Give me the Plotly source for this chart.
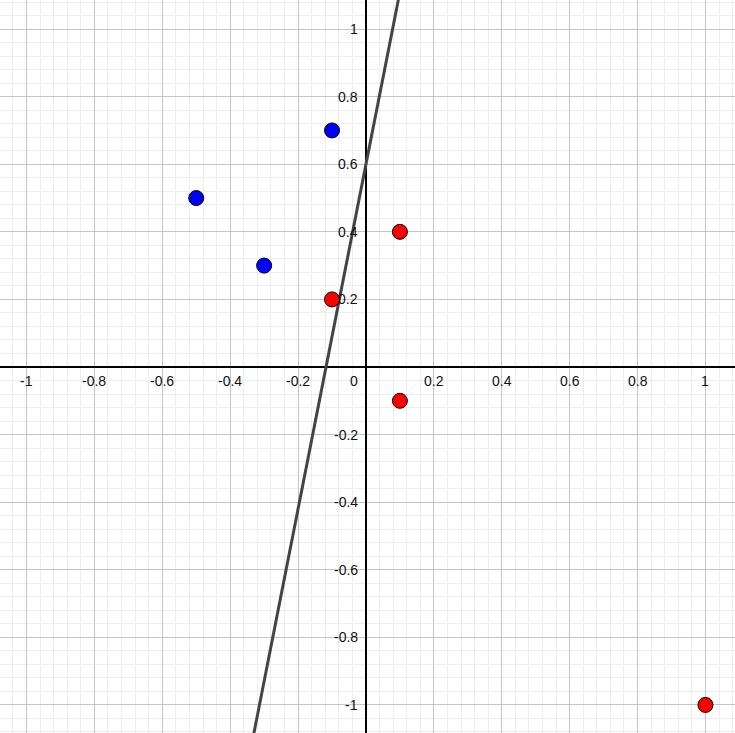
import plotly.graph_objects as go
import numpy as np

# Data
blue_x = [-0.5, -0.3, -0.1]
blue_y = [0.5, 0.3, 0.7]
red_x = [0.1, -0.1, 0.1, 1.0]
red_y = [0.4, 0.2, -0.1, -1.0]
line_slope = 5.1
line_intercept = 0.6

x_tick_vals = [-1, -0.8, -0.6, -0.4, -0.2, 0.2, 0.4, 0.6, 0.8, 1]
x_tick_text = ["-1", "-0.8", "-0.6", "-0.4", "-0.2", "0.2", "0.4", "0.6", "0.8", "1"]
y_tick_vals = [1, 0.8, 0.6, 0.4, 0.2, -0.2, -0.4, -0.6, -0.8, -1]
y_tick_text = ["1", "0.8", "0.6", "0.4", "0.2", "-0.2", "-0.4", "-0.6", "-0.8", "-1"]

x_range = [-1.078, 1.087]
y_range = [-1.083, 1.086]

fig = go.Figure()

ly = np.array([y_range[0] - 0.05, y_range[1] + 0.05])
lx = (ly - line_intercept) / line_slope
fig.add_trace(go.Scatter(x=lx, y=ly, mode="lines",
                         line=dict(color="#444444", width=3), hoverinfo="skip"))

fig.add_trace(go.Scatter(x=blue_x, y=blue_y, mode="markers",
                         marker=dict(size=15, color="#0000ff", line=dict(color="#000000", width=1))))
fig.add_trace(go.Scatter(x=red_x, y=red_y, mode="markers",
                         marker=dict(size=15, color="#ff0000", line=dict(color="#000000", width=1))))

font = dict(family="Liberation Sans, Arial, sans-serif", size=14, color="#111111")
annotations = []
for v, t in zip(x_tick_vals, x_tick_text):
    annotations.append(dict(x=v, y=0, xref="x", yref="y", text=t, showarrow=False,
                            xanchor="center", yanchor="middle", yshift=-14, font=font))
for v, t in zip(y_tick_vals, y_tick_text):
    annotations.append(dict(x=0, y=v, xref="x", yref="y", text=t, showarrow=False,
                            xanchor="right", yanchor="middle", xshift=-6, font=font))
annotations.append(dict(x=0, y=0, xref="x", yref="y", text="0", showarrow=False,
                        xanchor="right", yanchor="middle", xshift=-6, yshift=-14, font=font))

axis_common = dict(
    showticklabels=False, ticks="", showline=False,
    zeroline=True, zerolinecolor="#000000", zerolinewidth=1.5,
    showgrid=True, gridcolor="#c4c4c4", gridwidth=1, dtick=0.2, tick0=0,
    minor=dict(showgrid=True, gridcolor="#ededed", gridwidth=1, dtick=0.04, tick0=0),
    fixedrange=True,
)

fig.update_layout(
    width=735, height=733,
    margin=dict(l=0, r=0, t=0, b=0),
    paper_bgcolor="white", plot_bgcolor="white",
    showlegend=False,
    xaxis=dict(range=x_range, **axis_common),
    yaxis=dict(range=y_range, **axis_common),
    annotations=annotations,
)

fig.write_html("out.html", post_script="document.body.style.margin='0';document.body.style.overflow='hidden';",
               config={"displayModeBar": False})
